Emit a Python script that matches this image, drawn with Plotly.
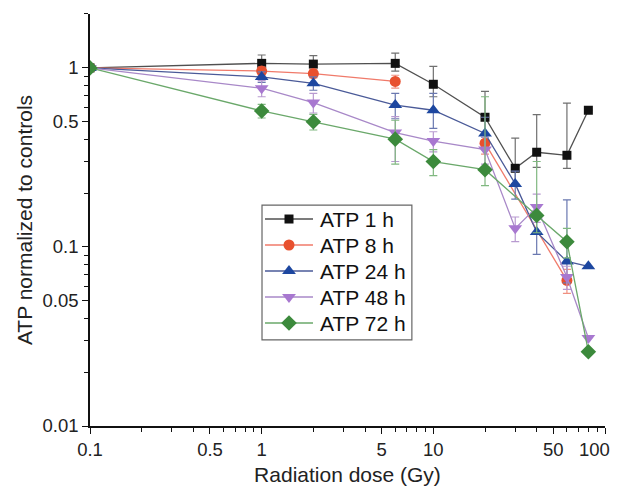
import plotly.graph_objects as go

# ---- data ----
doses = [0.1, 1, 2, 6, 10, 20, 30, 40, 60, 80]

atp_1h = [1.0, 1.06, 1.05, 1.06, 0.81, 0.53, 0.275, 0.338, 0.325, 0.58]
atp_1h_up = [0, 0.12, 0.12, 0.15, 0.21, 0.21, 0.13, 0.21, 0.31, 0]
atp_1h_dn = [0, 0.08, 0.08, 0.10, 0.12, 0.12, 0.05, 0.06, 0.05, 0]

doses_8h = [0.1, 1, 2, 6, 10, 20, 60]
atp_8h = [1.0, 0.96, 0.93, 0.84, None, 0.38, 0.065]
atp_8h_err = [0, 0.05, 0.05, 0.07, 0, 0.05, 0.01]

atp_24h = [1.0, 0.89, 0.82, 0.62, 0.58, 0.43, 0.225, 0.121, 0.083, 0.078]
atp_24h_up = [0, 0.06, 0.07, 0.10, 0.14, 0.10, 0.04, 0.03, 0.10, 0]
atp_24h_dn = [0, 0.06, 0.07, 0.10, 0.12, 0.08, 0.04, 0.03, 0.02, 0]

atp_48h = [1.0, 0.77, 0.64, 0.435, 0.39, 0.35, 0.127, 0.167, 0.068, 0.031]
atp_48h_up = [0, 0.08, 0.08, 0.10, 0.05, 0.06, 0.02, 0.03, 0.01, 0]
atp_48h_dn = [0, 0.08, 0.08, 0.135, 0.05, 0.06, 0.02, 0.03, 0.01, 0]

doses_72h = [0.1, 1, 2, 6, 10, 20, 40, 60, 80]
atp_72h = [1.0, 0.575, 0.50, 0.40, 0.30, 0.27, 0.15, 0.107, 0.026]
atp_72h_up = [0, 0.05, 0.05, 0.11, 0.05, 0.42, 0.15, 0.02, 0]
atp_72h_dn = [0, 0.05, 0.05, 0.11, 0.05, 0.05, 0.03, 0.02, 0]

x_tickvals = [0.1, 0.5, 1, 5, 10, 50, 100]
x_ticktext = ["0.1", "0.5", "1", "5", "10", "50", ""]
x_last_label = "100"
y_tickvals = [0.01, 0.05, 0.1, 0.5, 1]
y_ticktext = ["0.01", "0.05", "0.1", "0.5", "1"]

FONT = "Liberation Sans, Arial, sans-serif"
TICK_SIZE = 18.5

series = [
    dict(name="ATP 1 h", x=doses, y=atp_1h, up=atp_1h_up, dn=atp_1h_dn,
         mcolor="#111111", lcolor="#505050", ecolor="#707070", symbol="square", size=9),
    dict(name="ATP 8 h", x=doses_8h, y=atp_8h, up=atp_8h_err, dn=atp_8h_err,
         mcolor="#e8502e", lcolor="#f07a6a", ecolor="#f09080", symbol="circle", size=11),
    dict(name="ATP 24 h", x=doses, y=atp_24h, up=atp_24h_up, dn=atp_24h_dn,
         mcolor="#1d47a0", lcolor="#4a5a98", ecolor="#6a78b0", symbol="triangle-up", size=12),
    dict(name="ATP 48 h", x=doses, y=atp_48h, up=atp_48h_up, dn=atp_48h_dn,
         mcolor="#a878d0", lcolor="#a888c8", ecolor="#b89ad0", symbol="triangle-down", size=12),
    dict(name="ATP 72 h", x=doses_72h, y=atp_72h, up=atp_72h_up, dn=atp_72h_dn,
         mcolor="#3c8a3c", lcolor="#6aa86a", ecolor="#80b880", symbol="diamond", size=12),
]

fig = go.Figure()
for s in series:
    fig.add_trace(go.Scatter(
        x=s["x"], y=s["y"], name=s["name"], mode="lines+markers",
        connectgaps=False, showlegend=False,
        line=dict(color=s["lcolor"], width=1.3),
        marker=dict(color=s["mcolor"], symbol=s["symbol"], size=s["size"],
                    line=dict(width=0)),
        error_y=dict(type="data", symmetric=False, array=s["up"], arrayminus=s["dn"],
                     color=s["ecolor"], thickness=1.2, width=4),
    ))

# ---- legend box drawn in plot-area (paper) coordinates ----
LEG_X0, LEG_X1, LEG_Y0, LEG_Y1 = 0.334, 0.625, 0.209, 0.536
ROW0, ROW_STEP = 0.5024, 0.0631
SEG_X0, SEG_X1, SYM_X, TXT_X = 0.3398, 0.4330, 0.3864, 0.4427

shapes = [dict(type="rect", xref="paper", yref="paper", layer="below",
               x0=LEG_X0, x1=LEG_X1, y0=LEG_Y0, y1=LEG_Y1,
               line=dict(color="#666666", width=1.2), fillcolor="white")]
annotations = []
for i, s in enumerate(series):
    yy = ROW0 - ROW_STEP * i
    shapes.append(dict(type="line", xref="paper", yref="paper", layer="below",
                       x0=SEG_X0, x1=SEG_X1, y0=yy, y1=yy,
                       line=dict(color=s["lcolor"], width=1.3)))
    annotations.append(dict(xref="paper", yref="paper", x=TXT_X, y=yy,
                            xanchor="left", yanchor="middle", showarrow=False,
                            text=s["name"],
                            font=dict(family=FONT, size=21, color="#111111")))
    fig.add_trace(go.Scatter(
        x=[SYM_X], y=[yy], xaxis="x2", yaxis="y2", mode="markers",
        showlegend=False, hoverinfo="skip",
        marker=dict(color=s["mcolor"], symbol=s["symbol"], size=s["size"],
                    line=dict(width=0)),
    ))

# last x tick label, nudged left so it stays inside the page
annotations.append(dict(xref="paper", yref="paper", x=1, y=0,
                        xanchor="center", yanchor="middle", xshift=-11, yshift=-23,
                        showarrow=False, text=x_last_label,
                        font=dict(family=FONT, size=TICK_SIZE, color="#222222")))

axis_common = dict(
    type="log", showgrid=False, zeroline=False, showline=True, automargin=False,
    linecolor="#111111", linewidth=1.5, ticks="outside", ticklen=6,
    tickwidth=1.3, tickcolor="#111111", mirror=False,
    tickfont=dict(family=FONT, size=TICK_SIZE, color="#222222"),
)

fig.update_layout(
    width=618, height=491,
    margin=dict(l=82, r=21, t=6, b=73),
    paper_bgcolor="white", plot_bgcolor="white",
    font=dict(family=FONT, color="#222222"),
    showlegend=False,
    shapes=shapes,
    annotations=annotations,
    xaxis=dict(**axis_common, range=[-1, 2],
               tickmode="array", tickvals=x_tickvals, ticktext=x_ticktext,
               minor=dict(tickmode="array",
                          tickvals=[m * d for d in (0.1, 1, 10) for m in range(2, 10)],
                          ticklen=4, tickcolor="#111111", ticks="outside"),
               title=dict(text="Radiation dose (Gy)", font=dict(family=FONT, size=21),
                          standoff=8)),
    yaxis=dict(**axis_common, range=[-2, 0.301],
               tickmode="array", tickvals=y_tickvals, ticktext=y_ticktext,
               minor=dict(tickmode="array",
                          tickvals=[m * d for d in (0.01, 0.1, 1) for m in range(2, 10) if m * d <= 2],
                          ticklen=4, tickcolor="#111111", ticks="outside"),
               title=dict(text="ATP normalized to controls", font=dict(family=FONT, size=21),
                          standoff=4)),
    xaxis2=dict(overlaying="x", range=[0, 1], visible=False, fixedrange=True),
    yaxis2=dict(overlaying="y", range=[0, 1], visible=False, fixedrange=True),
)

fig.write_html("out.html")
